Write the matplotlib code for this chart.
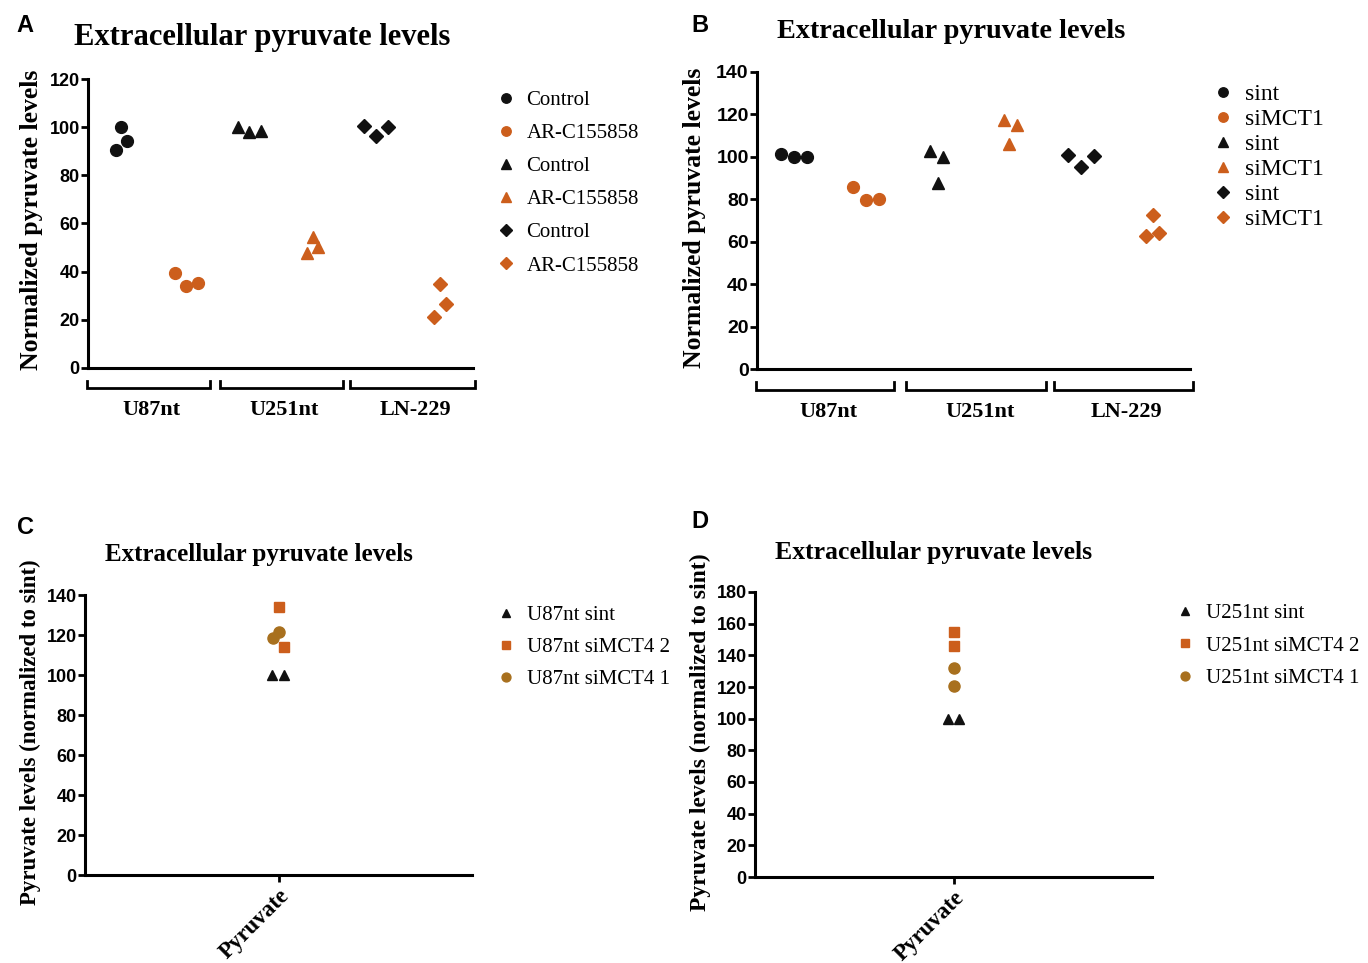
import numpy as np
import matplotlib
matplotlib.use("Agg")
import matplotlib.pyplot as plt
import matplotlib.transforms as mtransforms

# ---- data ----
# panel A: three cell lines, control vs AR-C155858
a_groups = ["U87nt", "U251nt", "LN-229"]
a_labels = ["Control", "AR-C155858", "Control", "AR-C155858", "Control", "AR-C155858"]
a_values = [
    [90.5, 100.0, 94.3],
    [39.5, 34.0, 35.3],
    [100.0, 98.0, 98.4],
    [54.4, 50.2, 47.8],
    [100.5, 96.3, 100.0],
    [35.0, 26.6, 21.2],
]
a_jitter = [
    [-0.09, -0.02, 0.08],
    [-0.17, 0.0, 0.19],
    [-0.17, 0.0, 0.19],
    [0.0, 0.09, -0.09],
    [-0.19, 0.0, 0.19],
    [0.0, 0.09, -0.09],
]

# panel B: sint vs siMCT1
b_groups = ["U87nt", "U251nt", "LN-229"]
b_labels = ["sint", "siMCT1", "sint", "siMCT1", "sint", "siMCT1"]
b_values = [
    [101.4, 100.0, 100.0],
    [85.8, 79.7, 80.2],
    [102.8, 87.7, 100.0],
    [117.5, 106.0, 115.0],
    [101.0, 95.3, 100.5],
    [62.7, 72.6, 64.0],
]
b_jitter = [
    [-0.18, 0.0, 0.18],
    [-0.18, 0.0, 0.18],
    [-0.10, 0.0, 0.08],
    [-0.08, 0.0, 0.10],
    [-0.18, 0.0, 0.18],
    [-0.10, 0.0, 0.08],
]

# panel C: U87nt siMCT4
c_labels = ["U87nt sint", "U87nt siMCT4 2", "U87nt siMCT4 1"]
c_values = [[100.0, 100.0], [134.0, 114.0], [118.5, 121.5]]
c_jitter = [[-0.036, 0.031], [0.0, 0.031], [-0.031, 0.0]]

# panel D: U251nt siMCT4
d_labels = ["U251nt sint", "U251nt siMCT4 2", "U251nt siMCT4 1"]
d_values = [[100.0, 100.0], [154.7, 146.0], [132.0, 120.7]]
d_jitter = [[-0.03, 0.03], [0.0, 0.0], [0.0, 0.0]]

BLACK = "#111111"
ORANGE = "#CC5E1C"
BROWN = "#A8701E"

SERIF = "Liberation Serif"
SANS = "Liberation Sans"

W, H = 1368, 963
fig = plt.figure(figsize=(W / 100, H / 100), dpi=100)


def box(l, t, r, b):
    return [l / W, 1 - b / H, (r - l) / W, (b - t) / H]


def ftext(x, y, s, **kw):
    fig.text(x / W, 1 - y / H, s, **kw)


def style_axes(ax, ymax, step, tick_size):
    for side in ("top", "right"):
        ax.spines[side].set_visible(False)
    for side in ("left", "bottom"):
        ax.spines[side].set_linewidth(2.2)
        ax.spines[side].set_color("black")
    ax.set_ylim(0, ymax)
    ax.set_yticks(np.arange(0, ymax + 1, step))
    ax.tick_params(axis="y", length=5, width=2, pad=1)
    for t in ax.get_yticklabels():
        t.set_fontfamily(SANS)
        t.set_fontweight("bold")
        t.set_fontsize(tick_size)


def brackets(ax, edges, labels, fs):
    trans = mtransforms.blended_transform_factory(ax.transData, ax.transAxes)
    for (x0, x1), lab in zip(edges, labels):
        ax.plot([x0, x0, x1, x1], [-0.045, -0.07, -0.07, -0.045], color="black",
                lw=2, transform=trans, clip_on=False, solid_joinstyle="miter")
        ax.text((x0 + x1) / 2 + 0.05, -0.145, lab, transform=trans, ha="center", va="center",
                fontfamily=SERIF, fontweight="bold", fontsize=fs)


def legend(ax, x, y, spacing, size=15, pad=0.5):
    ax.legend(loc="upper left", bbox_to_anchor=(x / W, 1 - y / H), bbox_transform=fig.transFigure,
              frameon=False, prop={"family": SERIF, "size": size}, handlelength=15.0 / size,
              handletextpad=pad, labelspacing=spacing, borderaxespad=0, markerscale=0.8)


markers6 = ["o", "o", "^", "^", "D", "D"]
colors6 = [BLACK, ORANGE, BLACK, ORANGE, BLACK, ORANGE]
sizes6 = [8.5, 8.5, 8.5, 8.5, 7.5, 7.5]

# ---------------- A ----------------
axA = fig.add_axes(box(88, 79, 473, 368))
for i, (vals, jit) in enumerate(zip(a_values, a_jitter)):
    axA.plot(i + np.array(jit), vals, linestyle="none", marker=markers6[i],
             color=colors6[i], markersize=sizes6[i], label=a_labels[i])
axA.set_xlim(-0.535, 5.52)
axA.set_xticks([])
style_axes(axA, 120, 20, 13)
brackets(axA, [(-0.55, 1.38), (1.54, 3.47), (3.58, 5.55)], a_groups, 16)
legend(axA, 487, 82, 0.65)
ftext(25, 25, "A", fontfamily=SANS, fontweight="bold", fontsize=17, ha="center", va="center")
ftext(262, 37, "Extracellular pyruvate levels", fontfamily=SERIF, fontweight="bold",
      fontsize=22, ha="center", va="center")
ftext(32, 220, "Normalized pyruvate levels", fontfamily=SERIF, fontweight="bold",
      fontsize=18.5, rotation=90, ha="center", va="center")

# ---------------- B ----------------
axB = fig.add_axes(box(757, 72, 1190, 369))
for i, (vals, jit) in enumerate(zip(b_values, b_jitter)):
    axB.plot(i + np.array(jit), vals, linestyle="none", marker=markers6[i],
             color=colors6[i], markersize=sizes6[i], label=b_labels[i])
axB.set_xlim(-0.515, 5.515)
axB.set_xticks([])
style_axes(axB, 140, 20, 14)
brackets(axB, [(-0.53, 1.39), (1.56, 3.51), (3.62, 5.55)], b_groups, 16)
legend(axB, 1203, 74, 0.15, size=17, pad=0.5)
ftext(700, 25, "B", fontfamily=SANS, fontweight="bold", fontsize=17, ha="center", va="center")
ftext(951, 31, "Extracellular pyruvate levels", fontfamily=SERIF, fontweight="bold",
      fontsize=20.3, ha="center", va="center")
ftext(694, 218, "Normalized pyruvate levels", fontfamily=SERIF, fontweight="bold",
      fontsize=18.5, rotation=90, ha="center", va="center")

# ---------------- C / D ----------------
markers3 = ["^", "s", "o"]
colors3 = [BLACK, ORANGE, BROWN]
sizes3 = [7.5, 7.5, 8]


def single_panel(rect, labels, values, jitter, ymax):
    ax = fig.add_axes(rect)
    for i, (vals, jit) in enumerate(zip(values, jitter)):
        ax.plot(np.array(jit), vals, linestyle="none", marker=markers3[i],
                color=colors3[i], markersize=sizes3[i], label=labels[i])
    ax.set_xlim(-1, 1)
    style_axes(ax, ymax, 20, 13)
    ax.set_xticks([0])
    ax.set_xticklabels(["Pyruvate"], rotation=45, ha="right", rotation_mode="anchor",
                       fontfamily=SERIF, fontweight="bold", fontsize=16.5)
    ax.tick_params(axis="x", length=5, width=2, pad=2)
    return ax


axC = single_panel(box(85, 595, 472, 875), c_labels, c_values, c_jitter, 140)
legend(axC, 487, 597, 0.61)
ftext(25, 528, "C", fontfamily=SANS, fontweight="bold", fontsize=17, ha="center", va="center")
ftext(259, 555, "Extracellular pyruvate levels", fontfamily=SERIF, fontweight="bold",
      fontsize=18, ha="center", va="center")
ftext(30, 732, "Pyruvate levels (normalized to sint)", fontfamily=SERIF, fontweight="bold",
      fontsize=16.5, rotation=90, ha="center", va="center")

axD = single_panel(box(755, 592, 1152, 877), d_labels, d_values, d_jitter, 180)
legend(axD, 1166, 595, 0.63)
ftext(700, 522, "D", fontfamily=SANS, fontweight="bold", fontsize=17, ha="center", va="center")
ftext(934, 552, "Extracellular pyruvate levels", fontfamily=SERIF, fontweight="bold",
      fontsize=18.5, ha="center", va="center")
ftext(700, 732, "Pyruvate levels (normalized to sint)", fontfamily=SERIF, fontweight="bold",
      fontsize=17, rotation=90, ha="center", va="center")

fig.savefig("out.png", dpi=100, facecolor="white")
